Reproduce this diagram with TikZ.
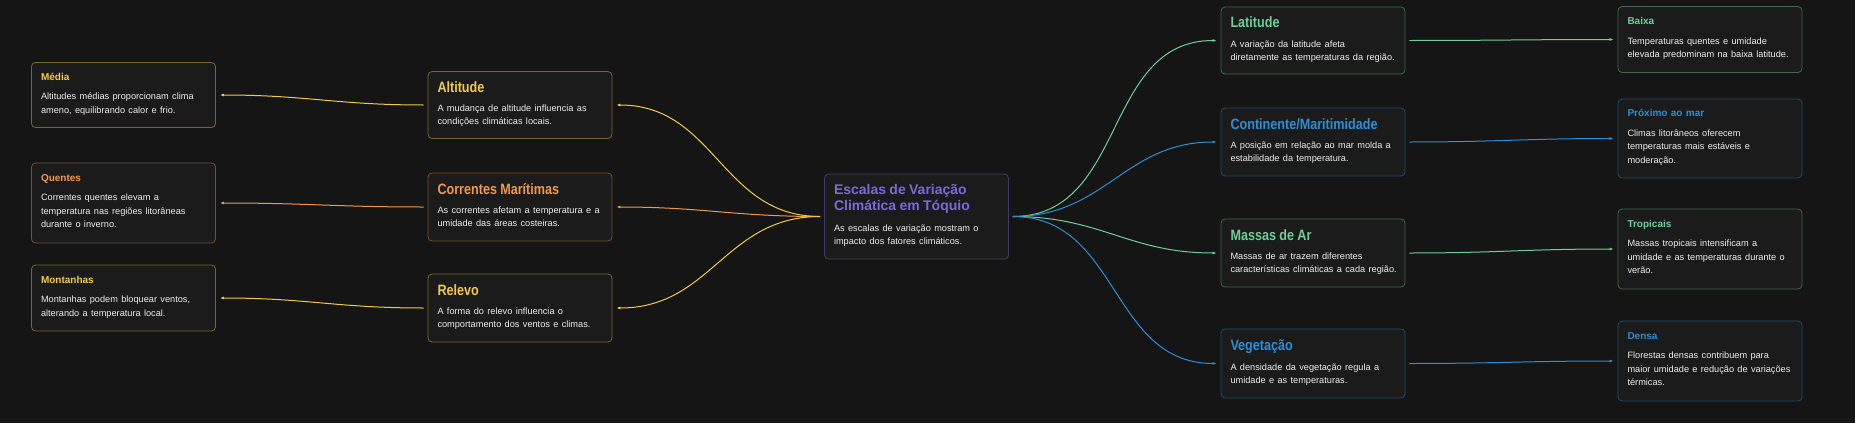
\documentclass[tikz,border=0pt]{standalone}
\usepackage{fontspec}
\setmainfont{Liberation Sans}
\newfontfamily\ttlf[FakeStretch=0.84]{Liberation Sans}
\usetikzlibrary{arrows.meta}
\definecolor{bgc}{HTML}{151515}
\definecolor{boxc}{HTML}{1B1B1B}
\definecolor{yel}{HTML}{F2C94C}
\definecolor{ora}{HTML}{F2994A}
\definecolor{grn}{HTML}{6FCF97}
\definecolor{blu}{HTML}{2D8FD8}
\definecolor{pur}{HTML}{7B6AD8}
\definecolor{txt}{HTML}{EDEDED}
\newcommand{\bodytab}[2]{{\fontsize{9.2}{#1}\selectfont\color{txt}\noindent\begin{tabular}[t]{@{}l@{}}#2\end{tabular}\par}}
\newcommand{\Lone}[3]{{\ttlf\bfseries\fontsize{15}{17}\selectfont\color{#1}\noindent#2\par}\vspace{6.5pt}\bodytab{13}{#3}}
\newcommand{\Ltwo}[3]{{\bfseries\fontsize{10}{12}\selectfont\color{#1}\noindent#2\par}\vspace{6pt}\bodytab{13.5}{#3}}
\tikzset{
  box/.style={draw=#1!45!bgc, fill=boxc, rounded corners=4pt, line width=0.8pt,
    align=left, inner xsep=9.5pt, inner ysep=0pt, text width=165pt},
  cbox/.style={box=pur, minimum height=85pt},
  lnk/.style={draw=#1, line width=1pt, -{Latex[length=4pt,width=3pt]},
    shorten <=4pt, shorten >=4pt, looseness=1.1}
}
\begin{document}
\begin{tikzpicture}[x=1pt,y=-1pt]
\fill[bgc] (0,0) rectangle (1855,423);
\useasboundingbox (0,0) rectangle (1855,423);
% central
\node[cbox] (c) at (916.5,216.5) {{\bfseries\fontsize{14}{15.3}\selectfont\color{pur}\noindent Escalas de Variação\\Climática em Tóquio\par}\vspace{8pt}\bodytab{13}{As escalas de variação mostram o\\impacto dos fatores climáticos.}};
% left level 1
\node[box=yel, minimum height=67pt] (alt) at (520,105) {\Lone{yel}{Altitude}{A mudança de altitude influencia as\\condições climáticas locais.}};
\node[box=ora, minimum height=68pt] (cor) at (520,207) {\Lone{ora}{Correntes Marítimas}{As correntes afetam a temperatura e a\\umidade das áreas costeiras.}};
\node[box=yel, minimum height=68pt] (rel) at (520,308) {\Lone{yel}{Relevo}{A forma do relevo influencia o\\comportamento dos ventos e climas.}};
% left level 2
\node[box=yel, minimum height=65pt] (med) at (123.5,95) {\Ltwo{yel}{Média}{Altitudes médias proporcionam clima\\ameno, equilibrando calor e frio.}};
\node[box=ora, minimum height=80pt] (que) at (123.5,203) {\Ltwo{ora}{Quentes}{Correntes quentes elevam a\\temperatura nas regiões litorâneas\\durante o inverno.}};
\node[box=yel, minimum height=66pt] (mon) at (123.5,298) {\Ltwo{yel}{Montanhas}{Montanhas podem bloquear ventos,\\alterando a temperatura local.}};
% right level 1
\node[box=grn, minimum height=67pt] (lat) at (1313,40.5) {\Lone{grn}{Latitude}{A variação da latitude afeta\\diretamente as temperaturas da região.}};
\node[box=blu, minimum height=68pt] (con) at (1313,142) {\Lone{blu}{Continente/Maritimidade}{A posição em relação ao mar molda a\\estabilidade da temperatura.}};
\node[box=grn, minimum height=68pt] (mas) at (1313,253) {\Lone{grn}{Massas de Ar}{Massas de ar trazem diferentes\\características climáticas a cada região.}};
\node[box=blu, minimum height=69pt] (veg) at (1313,363.5) {\Lone{blu}{Vegetação}{A densidade da vegetação regula a\\umidade e as temperaturas.}};
% right level 2
\node[box=grn, minimum height=66pt] (bai) at (1710,39.5) {\Ltwo{grn}{Baixa}{Temperaturas quentes e umidade\\elevada predominam na baixa latitude.}};
\node[box=blu, minimum height=79pt] (pro) at (1710,138.5) {\Ltwo{blu}{Próximo ao mar}{Climas litorâneos oferecem\\temperaturas mais estáveis e\\moderação.}};
\node[box=grn, minimum height=80pt] (tro) at (1710,249) {\Ltwo{grn}{Tropicais}{Massas tropicais intensificam a\\umidade e as temperaturas durante o\\verão.}};
\node[box=blu, minimum height=80pt] (den) at (1710,361) {\Ltwo{blu}{Densa}{Florestas densas contribuem para\\maior umidade e redução de variações\\térmicas.}};
% connectors
\draw[lnk=yel] (c.west) to[out=180,in=0] (alt.east);
\draw[lnk=ora] (c.west) to[out=180,in=0] (cor.east);
\draw[lnk=yel] (c.west) to[out=180,in=0] (rel.east);
\draw[lnk=yel] (alt.west) to[out=180,in=0] (med.east);
\draw[lnk=ora] (cor.west) to[out=180,in=0] (que.east);
\draw[lnk=yel] (rel.west) to[out=180,in=0] (mon.east);
\draw[lnk=grn] (c.east) to[out=0,in=180] (lat.west);
\draw[lnk=blu] (c.east) to[out=0,in=180] (con.west);
\draw[lnk=grn] (c.east) to[out=0,in=180] (mas.west);
\draw[lnk=blu] (c.east) to[out=0,in=180] (veg.west);
\draw[lnk=grn] (lat.east) to[out=0,in=180] (bai.west);
\draw[lnk=blu] (con.east) to[out=0,in=180] (pro.west);
\draw[lnk=grn] (mas.east) to[out=0,in=180] (tro.west);
\draw[lnk=blu] (veg.east) to[out=0,in=180] (den.west);
\end{tikzpicture}
\end{document}
